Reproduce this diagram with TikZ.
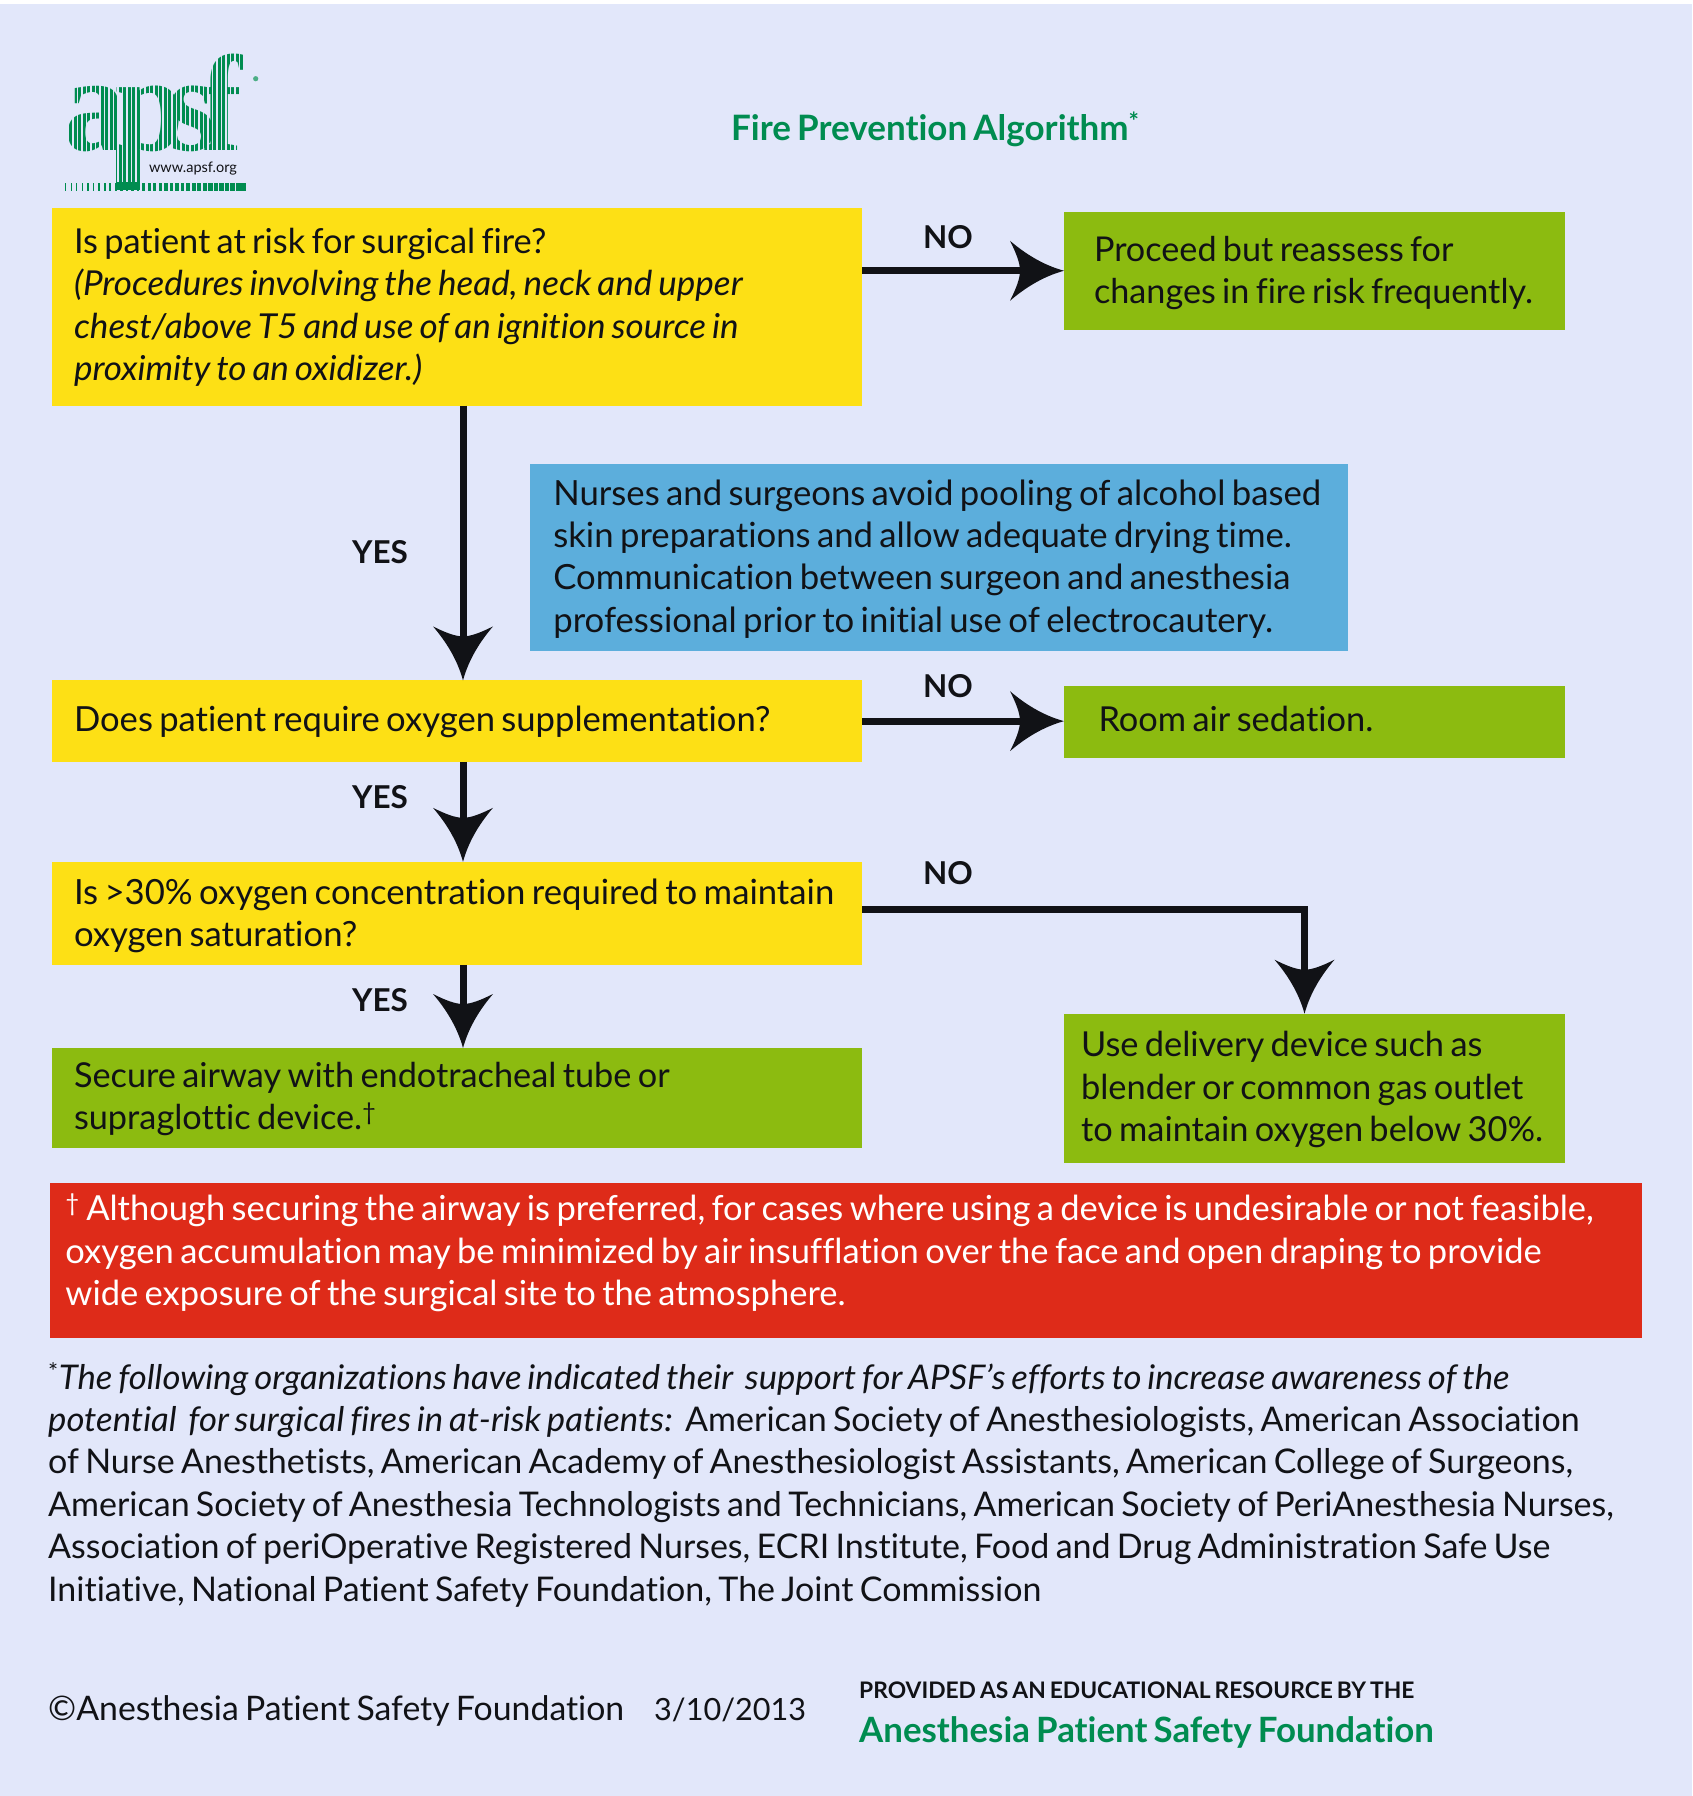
\documentclass[tikz,border=0pt]{standalone}
\usepackage{fontspec}
\setmainfont{Lato}[Ligatures={NoCommon},WordSpace=0.72,ItalicFeatures={FakeStretch=1.02}]
\newfontfamily\logofont{Liberation Serif}
\usetikzlibrary{arrows.meta,calc}
\definecolor{bgc}{HTML}{E2E7FA}
\definecolor{yel}{HTML}{FDE015}
\definecolor{grn}{HTML}{8CBB10}
\definecolor{blu}{HTML}{5CAEDC}
\definecolor{rdd}{HTML}{DE2B19}
\definecolor{tgr}{HTML}{008C50}
\definecolor{ink}{HTML}{111216}
\pgfdeclarearrow{
  name=Apsf,
  setup code={\pgfarrowssettipend{0pt}\pgfarrowssetbackend{-54pt}\pgfarrowssetlineend{-42pt}\pgfarrowssetvisualbackend{-44pt}},
  drawing code={
    \pgfpathmoveto{\pgfqpoint{0pt}{0pt}}
    \pgfpathcurveto{\pgfqpoint{-22pt}{6pt}}{\pgfqpoint{-40pt}{18pt}}{\pgfqpoint{-54pt}{30pt}}
    \pgfpathcurveto{\pgfqpoint{-48pt}{18pt}}{\pgfqpoint{-44pt}{8pt}}{\pgfqpoint{-44pt}{0pt}}
    \pgfpathcurveto{\pgfqpoint{-44pt}{-8pt}}{\pgfqpoint{-48pt}{-18pt}}{\pgfqpoint{-54pt}{-30pt}}
    \pgfpathcurveto{\pgfqpoint{-40pt}{-18pt}}{\pgfqpoint{-22pt}{-6pt}}{\pgfqpoint{0pt}{0pt}}
    \pgfpathclose\pgfusepathqfill},
  defaults={}
}
\newcommand{\fr}[1]{\rule{0pt}{#1pt}}
\newcommand{\lr}[1]{\rule[-#1pt]{0pt}{#1pt}}
\newcommand{\bsz}[1]{\fontsize{#1}{42.4}\selectfont}
\tikzset{
  body/.style={font=\fontsize{34}{42.4}\selectfont,text=ink,align=left},
  box/.style={body,align=flush left,anchor=north west,inner ysep=0pt,outer sep=0pt},
  flow/.style={line width=7pt,draw=ink,-{Apsf},color=ink},
  lab/.style={font=\fontsize{31.5}{36}\selectfont\bfseries,text=ink,inner sep=0pt},
  greenhead/.style={font=\fontsize{35}{40}\selectfont\bfseries,text=tgr,inner sep=0pt,anchor=base west},
  logol/.style={font=\logofont\bfseries\fontsize{137}{137}\selectfont,text=tgr,inner sep=0pt,anchor=base west,xscale=.9},
}
\begin{document}
\begin{tikzpicture}[x=1pt,y=-1pt]
\useasboundingbox (0,0) rectangle (1692,1796);
\fill[white] (0,0) rectangle (1692,1796);
\fill[bgc] (0,3.5) rectangle (1692,1796);

% logo
\node[logol] (logo) at (64,150) {a\kern-11pt p\kern-18pt s\kern-16pt f};
\fill[bgc] (60,155) rectangle (116,182);
\fill[bgc] (140,155) rectangle (250,182);
\fill[tgr] (116,150) rectangle (140,190);
\foreach \i in {0,...,40}{\draw[bgc,line width=1.3pt] ({64+\i*4.5},52) -- ({64+\i*4.5},182);}
\foreach \i in {0,...,32}{\fill[tgr] ({65+\i*5.5},183) rectangle ({65+\i*5.5+1.2+\i*.13},191);}
\node[font=\fontsize{14.5}{18}\selectfont,text=ink,inner sep=0pt] (www) at (193,169) {www.apsf.org};
\fill[tgr!70] (255.7,78.7) circle (2.6);

% title
\node[greenhead] (title) at (731,140) {Fire Prevention Algorithm\textsuperscript{*}};

% boxes
\node[box,fill=yel,font=\bsz{34.35},minimum width=810pt,minimum height=198pt,inner xsep=22pt,text width=766pt] (y1) at (52,207.5)
 {\fr{28.8}Is patient at risk for surgical fire?\\\textit{(Procedures involving the head, neck and upper}\\\textit{chest/above T5 and use of an ignition source in}\\\textit{proximity to an oxidizer.)}\lr{8}};
\node[box,fill=grn,font=\bsz{34.2},minimum width=501pt,minimum height=117.5pt,inner xsep=30pt,text width=441pt] (g1) at (1064,212)
 {\fr{31}Proceed but reassess for\\changes in fire risk frequently.\lr{8}};
\node[box,fill=blu,font=\bsz{34.7},minimum width=818pt,minimum height=187pt,inner xsep=23pt,text width=772pt] (b1) at (530.3,464)
 {\fr{30.2}Nurses and surgeons avoid pooling of alcohol based\\skin preparations and allow adequate drying time.\\Communication between surgeon and anesthesia\\professional prior to initial use of electrocautery.\lr{8}};
\node[box,fill=yel,font=\bsz{34.6},minimum width=810pt,minimum height=81.5pt,inner xsep=22pt,text width=766pt] (y2) at (52,680.4)
 {\fr{29.1}Does patient require oxygen supplementation?\lr{8}};
\node[box,fill=grn,font=\bsz{34.4},minimum width=501pt,minimum height=72pt,inner xsep=34.5pt,text width=432pt] (g2) at (1064,686)
 {\fr{27.4}Room air sedation.\lr{8}};
\node[box,fill=yel,font=\bsz{34.7},minimum width=810pt,minimum height=103pt,inner xsep=22pt,text width=766pt] (y3) at (52,861.8)
 {\fr{31.8}Is >30\% oxygen concentration required to maintain\\oxygen saturation?\lr{8}};
\node[box,fill=grn,font=\bsz{34.3},minimum width=810pt,minimum height=99.7pt,inner xsep=22pt,text width=766pt] (g3) at (52,1048)
 {\fr{29.3}Secure airway with endotracheal tube or\\supraglottic device.\textsuperscript{†}\lr{8}};
\node[box,fill=grn,font=\bsz{34.4},minimum width=501pt,minimum height=149pt,inner xsep=17pt,text width=467pt] (g4) at (1064,1013.7)
 {\fr{29.8}Use delivery device such as\\blender or common gas outlet\\to maintain oxygen below 30\%.\lr{8}};
\node[box,fill=rdd,font=\bsz{34.5},text=white,minimum width=1592pt,minimum height=155pt,inner xsep=15pt,text width=1562pt] (r1) at (50.4,1183)
 {\fr{35.2}\textsuperscript{†} Although securing the airway is preferred, for cases where using a device is undesirable or not feasible,\\oxygen accumulation may be minimized by air insufflation over the face and open draping to provide\\wide exposure of the surgical site to the atmosphere.\lr{30}};

% footnote
\node[body,anchor=north west,inner sep=0pt] (fn) at (48,1362)
 {\textsuperscript{*}\textit{The following organizations have indicated their\ \ support for APSF’s efforts to increase awareness of the}\\
 \textit{potential\ \ for surgical fires in at-risk patients:}\ \ American Society of Anesthesiologists, American Association\\
 of Nurse Anesthetists, American Academy of Anesthesiologist Assistants, American College of Surgeons,\\
 American Society of Anesthesia Technologists and Technicians, American Society of PeriAnesthesia Nurses,\\
 Association of periOperative Registered Nurses, ECRI Institute, Food and Drug Administration Safe Use\\
 Initiative, National Patient Safety Foundation, The Joint Commission};

% bottom
\node[anchor=base west,inner sep=0pt,font=\fontsize{33.8}{40}\selectfont,text=ink] (cp) at (48,1720) {©Anesthesia Patient Safety Foundation};
\node[anchor=base west,inner sep=0pt,font=\fontsize{30.6}{40}\selectfont,text=ink] (dt) at (654,1720) {3/10/2013};
\node[font=\fontsize{22.8}{28}\selectfont\bfseries,text=ink,inner sep=0pt,anchor=base west] (pv) at (859,1698) {PROVIDED AS AN EDUCATIONAL RESOURCE BY THE};
\node[greenhead,font=\fontsize{34.85}{40}\selectfont\bfseries] (apf) at (859,1742) {Anesthesia Patient Safety Foundation};

% connectors
\draw[flow] (y1.east |- g1.west) -- (g1.west);
\draw[flow] ([xshift=6pt]y1.south) -- ([xshift=6pt]y1.south |- y2.north);
\draw[flow] (y2.east) -- (y2.east -| g2.west);
\draw[flow] ([xshift=6pt]y2.south) -- ([xshift=6pt]y2.south |- y3.north);
\draw[flow] ([xshift=6pt]y3.south) -- ([xshift=6pt]y3.south |- g3.north);
\coordinate (g4in) at ([xshift=-10pt]g4.north);
\draw[flow] ([yshift=3.5pt]y3.east) -| (g4in);

% labels
\node[lab] (n1) at (948,237) {NO};
\node[lab] (n2) at (948,686) {NO};
\node[lab] (n3) at (948,873) {NO};
\node[lab] (y1l) at (380,552) {YES};
\node[lab] (y2l) at (380,797) {YES};
\node[lab] (y3l) at (380,1000) {YES};
\end{tikzpicture}
\end{document}
